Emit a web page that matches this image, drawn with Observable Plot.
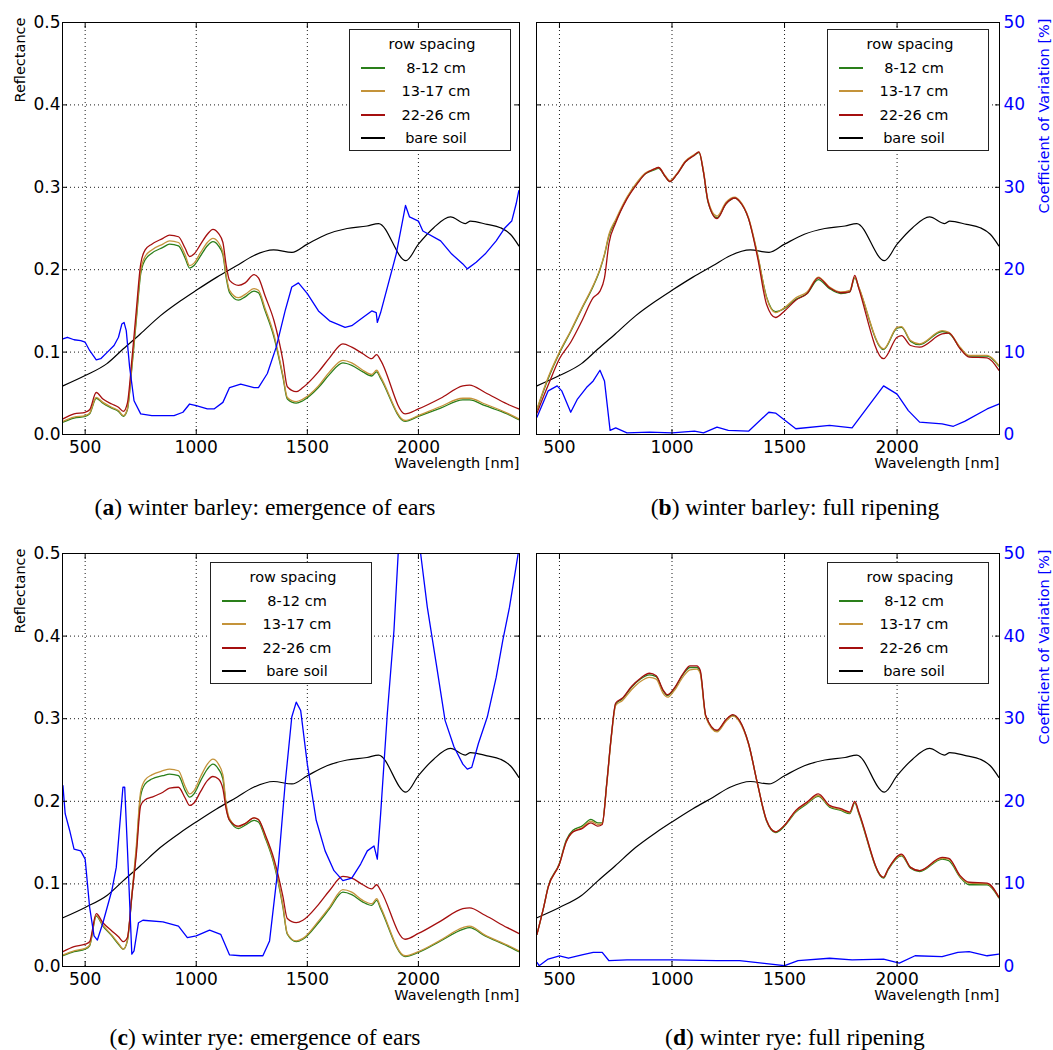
<!DOCTYPE html>
<html><head><meta charset="utf-8">
<script src="https://cdn.jsdelivr.net/npm/d3@7"></script>
<script src="https://cdn.jsdelivr.net/npm/@observablehq/plot@0.6"></script>
<style>
body{margin:0;background:#fff;}
#root{position:relative;width:1053px;height:1050px;overflow:hidden;font-family:"DejaVu Sans";}
.panel{position:absolute;}
.legend{position:absolute;box-sizing:border-box;width:162px;height:122px;border:1px solid #222;background:#fff;font-family:"DejaVu Sans";font-size:14.5px;color:#000;}
.legend .t{position:absolute;left:0;width:100%;text-align:center;height:20px;line-height:20px;white-space:nowrap;}
.legend .sw{position:absolute;left:11px;width:24px;height:2px;}
.caption{position:absolute;width:530px;text-align:center;font-family:"Liberation Serif";font-size:23.5px;line-height:28px;color:#000;}
</style></head><body><div id="root"></div>
<script>
// ---------- data ----------
const seriesNames = ["8-12 cm", "13-17 cm", "22-26 cm", "bare soil"];
const seriesColors = ["#2a7f1a", "#c4933a", "#a50f0f", "#000000"];
const cvColor = "#0000ff";
const xTicks = [500, 1000, 1500, 2000];
const yTicks = [0, 0.1, 0.2, 0.3, 0.4, 0.5];
const gridYTicks = [0.1, 0.2, 0.3, 0.4];
const captions = [
  ["a", " winter barley: emergence of ears"],
  ["b", " winter barley: full ripening"],
  ["c", " winter rye: emergence of ears"],
  ["d", " winter rye: full ripening"]
];

// bare soil (same in all panels)
const soilWl = [400,500,598,672,748,838,928,1000,1093,1183,1258,1348,1431,1500,1588,1679,1769,1821,1944,2000,2069,2144,2212,2234,2309,2369,2414,2452];
const soilRefl = [0.059,0.0715,0.086,0.104,0.122,0.144,0.162,0.175,0.191,0.205,0.217,0.224,0.221,0.231,0.243,0.250,0.253,0.256,0.211,0.231,0.251,0.264,0.256,0.259,0.255,0.251,0.243,0.229];

// (a) winter barley: emergence of ears  and (c) winter rye: emergence of ears
const acWl = [400,450,500,520,550,580,620,650,672,690,710,730,750,770,800,850,880,920,950,970,990,1020,1050,1075,1100,1120,1135,1150,1190,1220,1260,1280,1310,1350,1390,1410,1450,1480,1550,1600,1660,1700,1750,1790,1812,1830,1940,2000,2100,2200,2230,2300,2400,2452];
const aGreen = [0.015,0.020,0.022,0.025,0.044,0.038,0.032,0.028,0.022,0.030,0.080,0.138,0.195,0.212,0.220,0.227,0.231,0.229,0.214,0.202,0.205,0.217,0.229,0.234,0.229,0.218,0.190,0.172,0.163,0.167,0.174,0.172,0.150,0.118,0.070,0.043,0.038,0.041,0.057,0.073,0.087,0.084,0.076,0.071,0.076,0.068,0.016,0.022,0.032,0.042,0.042,0.035,0.025,0.018];
const aGold = [0.016,0.021,0.023,0.026,0.045,0.039,0.033,0.029,0.023,0.031,0.083,0.142,0.199,0.216,0.224,0.231,0.235,0.233,0.218,0.205,0.208,0.221,0.233,0.238,0.233,0.221,0.193,0.175,0.166,0.170,0.177,0.175,0.153,0.121,0.072,0.045,0.040,0.043,0.059,0.076,0.090,0.087,0.078,0.073,0.078,0.070,0.017,0.023,0.034,0.044,0.044,0.037,0.026,0.019];
const aRed = [0.019,0.025,0.027,0.030,0.051,0.043,0.037,0.033,0.028,0.038,0.090,0.150,0.207,0.224,0.231,0.238,0.242,0.240,0.226,0.216,0.219,0.231,0.243,0.249,0.244,0.233,0.205,0.187,0.181,0.184,0.194,0.190,0.168,0.138,0.090,0.058,0.052,0.057,0.076,0.093,0.110,0.106,0.098,0.092,0.097,0.090,0.025,0.031,0.044,0.059,0.060,0.051,0.037,0.031];
const aCvWl = [400,420,450,480,500,520,550,570,600,630,650,665,675,685,700,720,750,800,900,940,970,1000,1050,1080,1120,1150,1200,1260,1280,1320,1360,1400,1430,1460,1500,1550,1600,1670,1700,1750,1790,1810,1815,1830,1900,1942,1960,2000,2020,2100,2150,2200,2220,2260,2300,2350,2390,2420,2440,2452];
const aCv = [11.6,11.8,11.5,11.4,11.2,10.2,9.05,9.2,10.0,10.8,11.8,13.4,13.6,12.6,8.2,4.1,2.5,2.3,2.3,2.7,3.7,3.5,3.1,3.1,3.9,5.7,6.1,5.7,5.7,7.4,10.6,15.0,17.9,18.4,17.1,15.0,13.8,13.0,13.2,14.2,15.0,14.8,13.6,14.8,21.9,27.8,26.4,25.9,24.7,23.5,21.9,20.7,20.1,20.9,21.9,23.5,25.1,25.9,28.0,29.6];

const cGreen = [0.013,0.018,0.021,0.025,0.061,0.049,0.037,0.027,0.021,0.031,0.084,0.140,0.207,0.221,0.227,0.231,0.233,0.231,0.213,0.205,0.209,0.225,0.239,0.245,0.239,0.227,0.193,0.177,0.167,0.171,0.177,0.175,0.156,0.124,0.072,0.039,0.030,0.033,0.053,0.070,0.090,0.087,0.078,0.074,0.080,0.070,0.012,0.017,0.031,0.045,0.047,0.037,0.025,0.018];
const cGold = [0.014,0.019,0.022,0.026,0.062,0.050,0.038,0.028,0.021,0.032,0.086,0.145,0.212,0.226,0.232,0.237,0.239,0.237,0.218,0.209,0.213,0.230,0.245,0.251,0.245,0.232,0.196,0.179,0.169,0.173,0.180,0.178,0.158,0.126,0.074,0.040,0.031,0.034,0.055,0.072,0.093,0.090,0.080,0.076,0.082,0.072,0.013,0.018,0.032,0.047,0.049,0.038,0.026,0.019];
const cRed = [0.018,0.024,0.027,0.030,0.064,0.053,0.043,0.036,0.030,0.035,0.085,0.135,0.195,0.202,0.205,0.211,0.216,0.217,0.204,0.195,0.198,0.212,0.225,0.230,0.227,0.215,0.190,0.177,0.170,0.173,0.180,0.178,0.160,0.130,0.085,0.058,0.053,0.056,0.075,0.092,0.109,0.107,0.099,0.094,0.099,0.092,0.033,0.040,0.055,0.070,0.071,0.062,0.047,0.040];
const cCvWl = [400,410,430,450,480,500,520,540,555,580,620,640,660,670,678,690,710,720,740,760,850,920,960,1000,1060,1110,1150,1200,1300,1330,1370,1400,1430,1450,1470,1500,1540,1580,1620,1660,1700,1740,1770,1800,1815,1830,1860,1890,1910,1940,1960,1985,2010,2040,2080,2120,2160,2200,2220,2240,2270,2310,2350,2380,2410,2430,2452];
const cCv = [21.9,18.5,16.5,14.2,14.0,13.0,7.2,3.7,3.2,5.3,9.2,12.0,18.5,21.7,21.7,14.4,1.5,1.9,5.3,5.6,5.4,4.9,3.5,3.7,4.4,3.9,1.4,1.3,1.3,3.1,12.4,22.1,30.2,32.0,31.0,24.5,17.7,14.0,11.6,10.4,10.7,12.4,14.0,14.6,13.0,18.5,30.6,40.7,50.5,60,62,58,50,43.5,36.7,29.8,26.6,24.5,23.9,24.1,27.0,30.2,35.0,39.5,43.5,46.8,50.5];

// (b) winter barley: full ripening
const bWl = [400,450,500,550,600,650,680,700,720,750,800,850,880,920,940,970,990,1020,1060,1100,1120,1140,1160,1200,1240,1280,1300,1340,1380,1420,1460,1500,1550,1600,1650,1700,1750,1790,1812,1830,1940,2000,2020,2060,2100,2200,2230,2280,2320,2400,2452];
const bGreen = [0.030,0.068,0.099,0.125,0.153,0.180,0.200,0.218,0.241,0.259,0.287,0.307,0.316,0.321,0.323,0.313,0.307,0.315,0.331,0.339,0.342,0.318,0.282,0.263,0.280,0.287,0.283,0.262,0.218,0.167,0.149,0.153,0.164,0.171,0.188,0.177,0.171,0.173,0.190,0.178,0.103,0.129,0.130,0.113,0.109,0.125,0.123,0.105,0.095,0.095,0.083];
const bGold = [0.031,0.0695,0.100,0.126,0.154,0.181,0.201,0.219,0.243,0.261,0.288,0.308,0.317,0.322,0.324,0.314,0.308,0.316,0.332,0.340,0.343,0.320,0.284,0.265,0.282,0.288,0.284,0.263,0.219,0.166,0.148,0.154,0.166,0.173,0.191,0.179,0.173,0.175,0.191,0.179,0.104,0.130,0.131,0.114,0.110,0.126,0.124,0.106,0.096,0.096,0.084];
const bRed = [0.026,0.060,0.092,0.112,0.138,0.166,0.174,0.190,0.232,0.257,0.286,0.306,0.316,0.322,0.324,0.313,0.307,0.315,0.331,0.339,0.343,0.318,0.283,0.262,0.280,0.287,0.283,0.262,0.215,0.158,0.142,0.150,0.163,0.171,0.190,0.178,0.172,0.173,0.193,0.177,0.092,0.118,0.120,0.108,0.106,0.122,0.123,0.104,0.094,0.093,0.078];
const bCvWl = [400,450,490,510,550,580,620,650,680,700,725,750,800,900,1000,1100,1140,1200,1250,1340,1430,1460,1550,1700,1800,1940,2000,2050,2100,2200,2250,2300,2400,2452];
const bCv = [2.1,5.3,5.9,5.3,2.7,4.3,5.7,6.5,7.8,6.5,0.5,0.8,0.2,0.3,0.2,0.4,0.2,0.9,0.5,0.4,2.7,2.6,0.7,1.1,0.8,5.9,4.9,2.9,1.5,1.3,1.0,1.6,3.1,3.7];

// (d) winter rye: full ripening
const dWl = [400,430,450,500,530,560,600,640,670,690,710,730,750,780,820,860,900,930,960,980,1010,1050,1080,1110,1125,1150,1200,1240,1270,1300,1340,1380,1420,1460,1500,1550,1600,1650,1700,1750,1790,1812,1830,1940,1960,2020,2060,2100,2200,2230,2280,2320,2400,2452];
const dGreen = [0.039,0.072,0.097,0.125,0.153,0.165,0.170,0.178,0.174,0.174,0.222,0.278,0.318,0.324,0.338,0.348,0.353,0.351,0.334,0.328,0.336,0.354,0.362,0.362,0.357,0.303,0.285,0.298,0.304,0.297,0.270,0.221,0.176,0.162,0.170,0.187,0.197,0.206,0.193,0.189,0.185,0.198,0.185,0.107,0.117,0.134,0.119,0.115,0.130,0.128,0.108,0.099,0.099,0.083];
const dGold = [0.039,0.072,0.096,0.124,0.151,0.163,0.168,0.176,0.172,0.173,0.220,0.276,0.316,0.322,0.335,0.345,0.350,0.348,0.331,0.326,0.334,0.351,0.359,0.360,0.355,0.302,0.284,0.297,0.303,0.296,0.269,0.221,0.177,0.163,0.171,0.188,0.198,0.207,0.194,0.190,0.186,0.199,0.186,0.108,0.118,0.135,0.120,0.116,0.131,0.130,0.109,0.101,0.100,0.084];
const dRed = [0.039,0.072,0.096,0.124,0.151,0.163,0.167,0.174,0.170,0.172,0.221,0.278,0.319,0.325,0.339,0.349,0.355,0.352,0.335,0.329,0.337,0.355,0.364,0.364,0.359,0.304,0.286,0.299,0.305,0.298,0.270,0.221,0.177,0.163,0.171,0.189,0.199,0.209,0.195,0.191,0.187,0.200,0.187,0.108,0.118,0.136,0.120,0.116,0.132,0.131,0.110,0.102,0.101,0.084];
const dCvWl = [400,410,450,500,540,600,650,690,720,800,1000,1200,1300,1400,1500,1560,1700,1800,1940,2010,2080,2200,2270,2320,2400,2452];
const dCv = [0.5,0.1,0.9,1.3,1.0,1.4,1.7,1.7,0.7,0.8,0.8,0.7,0.7,0.4,0.1,0.7,1.0,0.8,0.9,0.4,1.3,1.2,1.7,1.8,1.3,1.5];

// ---------- drawing ----------
const root = document.getElementById("root");
const rows = (wl, vals, series) => wl.map((w, i) => ({wl: w, value: vals[i], series}));

function legendBox(parent, x, y) {
  const box = document.createElement("div");
  box.className = "legend";
  box.style.left = x + "px"; box.style.top = y + "px";
  const title = document.createElement("div");
  title.className = "t"; title.textContent = "row spacing";
  title.style.top = (14 - 10) + "px"; title.style.left = "2px";
  box.appendChild(title);
  const centers = [38, 61, 85, 108];
  seriesNames.forEach((name, i) => {
    const sw = document.createElement("div");
    sw.className = "sw";
    sw.style.top = (centers[i] - 1) + "px";
    sw.style.background = seriesColors[i];
    box.appendChild(sw);
    const t = document.createElement("div");
    t.className = "t"; t.textContent = name;
    t.style.left = "46px"; t.style.width = "80px";
    t.style.top = (centers[i] - 10) + "px";
    box.appendChild(t);
  });
  parent.appendChild(box);
}

function panel(cfg) {
  const {left, top, wl, green, gold, red, cvWl, cv, leftCol, legend, cap} = cfg;
  const width = leftCol ? 530 : 523;
  const height = 480;
  const marginLeft = leftCol ? 62 : 6;
  const marginRight = leftCol ? 11 : 54;
  const marginTop = top === 0 ? 22 : 23;
  const marginBottom = top === 0 ? 46 : 44;
  const veg = [...rows(wl, green, seriesNames[0]), ...rows(wl, gold, seriesNames[1]), ...rows(wl, red, seriesNames[2])];
  const soil = rows(soilWl, soilRefl, seriesNames[3]);
  const cvRows = cvWl.map((w, i) => ({wl: w, cv: cv[i]}));
  const grid = {stroke: "#000", strokeOpacity: 0.9, strokeDasharray: "1,3", strokeWidth: 1};
  const marks = [
    Plot.gridX(xTicks, grid),
    Plot.gridY(gridYTicks, grid),
    Plot.line(soil, {x: "wl", y: "value", stroke: "#000", strokeWidth: 1.2, curve: "monotone-x"}),
    Plot.line(veg, {x: "wl", y: "value", z: "series", stroke: "series", strokeWidth: 1.3, curve: "monotone-x"}),
    Plot.line(cvRows, {x: "wl", y: d => d.cv / 100, stroke: cvColor, strokeWidth: 1.3, clip: true}),
    Plot.frame({stroke: "#000", strokeWidth: 1}),
    Plot.axisX(xTicks, {anchor: "bottom", tickSize: 0, tickPadding: 6, tickFormat: d => String(d), fontSize: 17, label: null}),
    Plot.axisX(xTicks, {anchor: "bottom", tickSize: -5, tickFormat: () => "", label: null}),
    Plot.axisX(xTicks, {anchor: "top", tickSize: -5, tickFormat: () => "", label: null}),
    Plot.axisY(yTicks, {anchor: "left", tickSize: -5, tickFormat: () => "", label: null}),
    Plot.axisY(yTicks, {anchor: "right", tickSize: -5, tickFormat: () => "", label: null}),
    Plot.text(["Wavelength [nm]"], {text: d => d, frameAnchor: "bottom-right", textAnchor: "end", dy: 33, fontSize: 14.5})
  ];
  if (leftCol) {
    marks.push(Plot.axisY(yTicks, {anchor: "left", tickSize: 0, tickPadding: 2, tickFormat: d3.format(".1f"), fontSize: 17, label: null}));
    marks.push(Plot.text(["Reflectance"], {text: d => d, frameAnchor: "top-left", rotate: -90, textAnchor: "end", dx: -48, dy: -5, fontSize: 14.5}));
  } else {
    marks.push(Plot.axisY(yTicks, {anchor: "right", tickSize: 0, tickPadding: 4, tickFormat: d => String(Math.round(d * 100)), color: cvColor, fontSize: 17, label: null}));
    marks.push(Plot.text(["Coefficient of Variation [%]"], {text: d => d, frameAnchor: "top-right", rotate: -90, textAnchor: "end", dx: 39, dy: -4, fill: cvColor, fontSize: 14.5}));
  }
  const svg = Plot.plot({
    width, height, marginLeft, marginRight, marginTop, marginBottom,
    x: {domain: [398, 2455]},
    y: {domain: [0, 0.5]},
    color: {domain: seriesNames, range: seriesColors},
    style: {fontFamily: "DejaVu Sans", fontSize: "17px", background: "transparent", overflow: "visible", color: "#000"},
    marks
  });
  const holder = document.createElement("div");
  holder.className = "panel";
  holder.style.left = left + "px"; holder.style.top = top + "px";
  holder.appendChild(svg);
  root.appendChild(holder);
  legendBox(holder, legend[0], legend[1]);
  const c = document.createElement("div");
  c.className = "caption";
  c.style.left = (leftCol ? 0 : 530) + "px";
  c.style.top = (top === 0 ? 493 : 1023) + "px";
  c.innerHTML = "(<b>" + cap[0] + "</b>)" + cap[1];
  root.appendChild(c);
}

panel({left: 0, top: 0, wl: acWl, green: aGreen, gold: aGold, red: aRed, cvWl: aCvWl, cv: aCv, leftCol: true, legend: [349, 29], cap: captions[0]});
panel({left: 530, top: 0, wl: bWl, green: bGreen, gold: bGold, red: bRed, cvWl: bCvWl, cv: bCv, leftCol: false, legend: [297, 29], cap: captions[1]});
panel({left: 0, top: 530, wl: acWl, green: cGreen, gold: cGold, red: cRed, cvWl: cCvWl, cv: cCv, leftCol: true, legend: [210, 32], cap: captions[2]});
panel({left: 530, top: 530, wl: dWl, green: dGreen, gold: dGold, red: dRed, cvWl: dCvWl, cv: dCv, leftCol: false, legend: [297, 32], cap: captions[3]});
</script></body></html>
